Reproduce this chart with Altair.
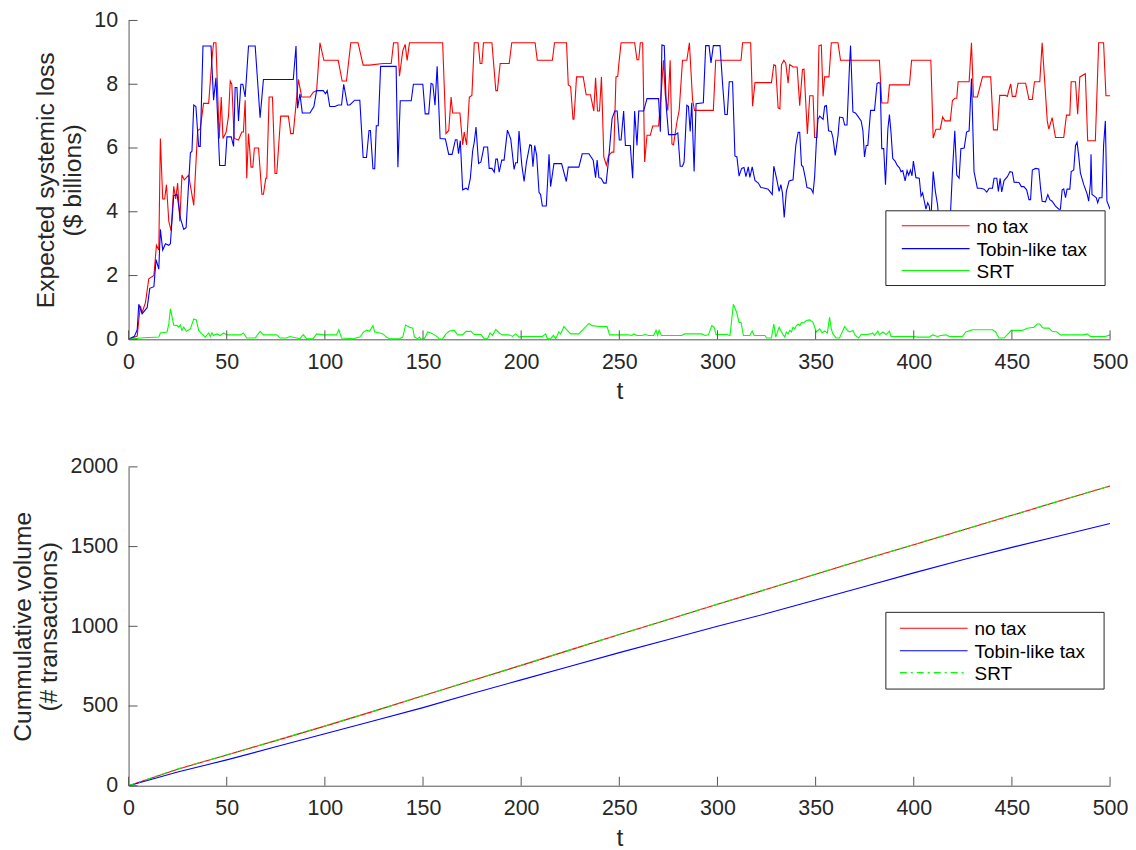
import altair as alt
import pandas as pd

# ---------------- data: expected systemic loss ($ billions) ----------------
notax_t = [0, 4.4, 5.2, 6, 6.9, 8.6, 10.3, 12.9, 14.2, 15.4, 16.2, 17.4, 18.4, 19.3, 20.5, 21.7, 23.0, 24.0, 25.0, 26.1,
           27.2, 28.4, 30.6, 33.2, 35.2, 36.5, 38.2, 40.8, 42.5, 43.3, 44.5, 46.2, 47.2, 48.1, 49.7, 50.9, 51.8, 52.6,
           53.8, 56.0, 57.7, 58.5, 59.4, 60.2, 61.1, 62.4, 63.3, 64.1, 66.2, 67.9, 68.7, 69.9, 70.4, 71.6, 73.3, 74.6,
           75.5, 77.5, 81.4, 82.6, 83.9, 86.5, 88.2, 92.4, 94.1, 95.8, 97.5, 99.5, 106.8, 108.8, 111.0, 113.2, 116.9,
           119.5, 122.8, 129.6, 133.8, 135.0, 137.2, 138.0, 139.7, 140.9, 141.9, 143.1, 160.0, 161.7, 163.1, 164.3,
           165.1, 168.8, 170.2, 171.0, 172.2, 173.6, 174.9, 176.1, 178.1, 179.1, 180.0, 180.8, 185.1, 187.1, 187.9,
           189.3, 193.9, 195.2, 207.1, 208.2, 215.9, 217.0, 223.1, 224.0, 225.2, 226.4, 226.9, 228.2, 231.6, 233.1,
           235.3, 237.0, 237.9, 238.9, 239.9, 240.9, 242.1, 243.4, 244.6, 246.3, 247.2, 248.3, 249.2, 249.7, 250.9,
           257.8, 259.0, 259.9, 260.7, 261.9, 262.9, 264.1, 265.8, 267.0, 270.0, 271.4, 272.5, 273.4, 274.7, 275.9,
           276.8, 277.6, 279.3, 280.5, 282.2, 284.4, 285.7, 287.3, 288.3, 297.9, 299.1, 312.0, 312.8, 316.9, 317.9,
           319.1, 327.5, 328.7, 329.6, 330.9, 331.8, 332.6, 333.8, 334.8, 336.0, 336.8, 338.5, 340.6, 341.9, 343.3,
           344.1, 345.8, 347.0, 348.7, 349.5, 350.7, 351.7, 352.9, 353.8, 354.6, 356.8, 358.0, 361.4, 362.7, 382.5,
           383.7, 386.8, 387.6, 397.8, 398.9, 408.7, 409.9, 411.3, 413.5, 414.7, 415.9, 418.6, 419.7, 420.9, 421.9,
           422.6, 428.2, 429.4, 430.4, 432.4, 435.0, 439.2, 440.6, 442.6, 443.8, 446.8, 447.7, 448.5, 449.4, 450.2,
           451.9, 453.1, 457.0, 458.7, 460.4, 461.5, 464.2, 465.4, 467.1, 468.0, 468.8, 470.5, 472.2, 476.4, 477.8,
           479.5, 480.2, 482.4, 483.5, 484.6, 487.4, 488.6, 492.5, 494.2, 496.7, 497.9, 500]
notax_loss = [0, 0.1, 0.6, 1.05, 0.84, 1.15, 1.9, 2.0, 2.95, 2.8, 6.3, 4.4, 4.4, 4.85, 3.7, 3.4, 4.8, 4.4, 4.9, 3.7,
              5.15, 5.0, 5.15, 4.2, 6.55, 6.6, 7.4, 7.4, 8.8, 9.3, 9.3, 6.3, 7.6, 6.3, 6.5, 7.0, 8.1, 8.0,
              6.3, 6.25, 6.5, 6.5, 7.5, 5.05, 6.45, 5.4, 5.4, 6.0, 6.0, 4.55, 4.55, 5.05, 5.05, 7.6, 7.6, 5.2,
              5.2, 7.0, 7.0, 6.45, 6.45, 8.15, 7.6, 7.6, 7.75, 7.8, 9.3, 8.75, 8.75, 8.1, 8.1, 9.3, 9.3,
              8.6, 8.6, 8.65, 8.65, 9.3, 9.3, 8.25, 9.05, 9.25, 8.75, 9.3, 9.3, 6.45, 6.55, 7.6,
              7.1, 7.1, 6.1, 6.5, 6.1, 7.6, 7.65, 9.3, 9.3, 8.65, 8.65, 9.3, 9.3, 7.8, 7.8,
              8.65, 8.65, 9.3, 9.3, 8.75, 8.75, 9.3, 9.3, 7.98, 7.93, 6.9, 6.9, 8.23, 8.23, 7.67,
              7.67, 7.16, 8.2, 7.16, 7.16, 8.23, 5.72, 5.46, 5.77, 5.87, 5.87, 8.23, 8.25, 8.6, 9.3,
              9.3, 8.77, 8.77, 9.3, 9.3, 5.56, 6.4, 6.4, 6.69, 6.69, 7.77, 8.75, 7.67, 7.18, 8.75,
              6.13, 6.1, 6.8, 7.19, 8.75, 8.75, 9.3, 7.52, 7.18, 7.18, 8.75, 8.75, 9.3, 9.3, 7.31,
              8.05, 8.05, 8.61, 8.59, 7.26, 7.23, 8.61, 8.75, 8.66, 8.03, 8.62, 8.54, 8.54, 7.33, 8.46,
              8.47, 6.44, 7.64, 7.64, 6.33, 6.33, 9.21, 9.23, 7.62, 8.23, 8.23, 9.3, 9.3, 8.75, 8.75,
              7.41, 7.41, 7.98, 7.98, 8.75, 8.75, 6.31, 6.59, 6.59, 6.97, 6.85, 6.85, 7.49, 7.56, 7.56,
              8.08, 8.08, 9.3, 7.6, 7.6, 8.23, 8.23, 6.57, 6.57, 7.65, 7.65, 7.62, 7.82, 8.01, 7.62,
              7.62, 8.03, 8.03, 7.52, 7.52, 8.08, 8.08, 9.3, 7.72, 6.85, 6.59, 6.95, 6.33, 6.33, 7.03,
              7.03, 8.08, 8.08, 7.06, 8.23, 8.33, 6.23, 6.23, 9.3, 9.3, 7.64, 7.64]

tobin_t = [0, 3, 4.4, 5.2, 6.9, 9.5, 10.8, 12.9, 14.0, 15.4, 16.2, 17.4, 18.8, 20.5, 21.3, 23.0, 24.7, 26.4, 28.1,
           29.3, 31.5, 32.3, 33.2, 34.3, 35.7, 36.5, 37.9, 42.0, 43.3, 44.5, 46.4, 49.2, 50.1, 52.3, 53.5, 54.3,
           55.2, 56.0, 57.2, 58.2, 59.4, 61.1, 64.5, 67.0, 68.7, 83.9, 85.3, 86.1, 87.3, 88.5, 92.4, 94.4, 95.8,
           99.2, 100.3, 101.2, 102.5, 105.1, 106.8, 108.5, 109.6, 111.5, 112.7, 115.2, 117.8, 119.5, 121.2, 122.5,
           123.2, 124.5, 125.4, 126.2, 127.2, 128.4, 136.3, 137.2, 138.4, 144.0, 145.1, 149.9, 151.1, 152.9, 154.1,
           155.0, 156.1, 157.2, 158.7, 161.4, 163.1, 164.8, 166.5, 167.3, 168.1, 169.0, 170.2, 171.9, 172.9, 174.1,
           175.3, 176.1, 177.0, 178.3, 179.5, 181.0, 182.9, 183.7, 185.1, 186.3, 187.1, 187.9, 188.8, 190.1, 191.3,
           193.0, 194.7, 196.4, 197.2, 198.1, 198.9, 200.3, 201.5, 202.7, 204.4, 205.2, 206.0, 206.9, 207.9, 209.1,
           209.9, 210.8, 212.8, 214.2, 215.0, 216.7, 220.6, 223.0, 224.0, 229.4, 231.1, 234.5, 236.7, 237.9, 238.7,
           239.6, 240.7, 242.1, 243.3, 244.6, 246.3, 247.7, 248.9, 250.0, 250.9, 252.2, 253.1, 255.6, 256.8, 257.8,
           259.0, 259.9, 262.4, 264.1, 270.0, 270.9, 271.7, 272.9, 273.9, 275.1, 278.5, 279.8, 281.0, 282.2, 283.0,
           284.4, 285.2, 286.1, 286.9, 288.1, 289.1, 292.8, 294.0, 295.7, 296.7, 297.9, 301.3, 302.7, 303.8, 305.0,
           306.0, 307.7, 308.9, 309.9, 311.0, 312.3, 313.5, 314.5, 315.7, 316.5, 317.7, 319.1, 320.8, 322.1, 324.2,
           325.8, 326.7, 327.9, 328.7, 330.1, 331.4, 332.3, 333.1, 334.0, 335.1, 336.5, 338.5, 339.9, 341.1, 341.9,
           342.8, 343.6, 344.8, 345.6, 347.0, 347.8, 348.7, 349.5, 350.4, 351.2, 352.1, 353.8, 354.6, 355.5, 356.6,
           358.0, 358.8, 360.0, 361.4, 362.2, 363.9, 364.8, 366.0, 367.3, 367.8, 369.0, 370.3, 371.5, 373.2, 374.1,
           374.9, 375.8, 376.6, 378.0, 380.0, 381.3, 382.2, 382.9, 383.7, 384.7, 385.6, 386.8, 387.6, 388.4, 389.3,
           390.5, 391.5, 392.7, 393.5, 394.4, 395.6, 396.6, 397.4, 398.3, 399.1, 399.8, 401.1, 402.8, 403.7, 404.5,
           405.4, 406.2, 407.1, 407.9, 408.7, 409.9, 411.0, 412.1, 413.0, 414.5, 416.0, 417.5, 418.6, 419.7, 420.9,
           421.9, 423.1, 424.0, 425.7, 426.9, 428.2, 429.4, 430.7, 432.4, 434.1, 435.8, 437.2, 438.4, 440.1, 440.9,
           442.3, 443.1, 444.0, 444.8, 446.0, 447.7, 449.0, 450.2, 451.1, 453.6, 454.8, 456.1, 457.5, 458.7, 459.5,
           460.4, 462.0, 463.7, 464.6, 465.4, 467.1, 468.3, 469.3, 470.5, 472.2, 473.9, 474.7, 475.6, 476.4, 477.3,
           478.1, 479.5, 480.2, 481.5, 482.4, 483.2, 484.0, 484.9, 486.6, 488.3, 489.1, 490.0, 490.3, 490.8, 492.0,
           493.0, 493.7, 494.5, 495.9, 496.7, 497.6, 498.4, 500]
tobin_loss = [0, 0.1, 0.3, 1.1, 0.8, 1.0, 1.6, 1.65, 2.5, 2.2, 3.45, 2.8, 3.0, 2.95, 3.0, 4.5, 4.55, 3.8, 3.45,
              3.5, 5.85, 5.9, 7.35, 7.3, 6.05, 6.05, 9.2, 9.2, 7.5, 8.2, 5.45, 5.45, 6.35, 6.35, 6.05, 7.9,
              7.9, 6.85, 8.0, 8.0, 7.6, 9.2, 9.2, 6.95, 8.15, 8.15, 9.2, 7.25, 7.7, 7.1, 7.1, 7.3, 7.8,
              7.8, 7.7, 7.8, 7.3, 7.3, 7.35, 7.35, 8.0, 7.35, 7.35, 7.5, 7.5, 5.7, 5.7, 6.55,
              6.55, 5.35, 5.35, 6.7, 6.7, 8.56, 8.56, 5.4, 7.48, 7.48, 8.0, 8.0, 7.07, 7.07, 8.03,
              8.0, 7.34, 8.56, 6.3, 6.28, 5.8, 5.8, 6.26, 6.26, 5.82, 6.23, 4.69, 4.74, 4.69, 5.05,
              5.92, 6.18, 6.66, 5.51, 5.56, 6.03, 6.03, 5.36, 5.36, 5.24, 5.65, 5.65, 5.24, 5.62, 5.62,
              6.56, 6.28, 5.33, 5.54, 5.54, 6.53, 5.48, 4.95, 5.56, 6.1, 6.08, 5.41, 6.08, 5.77, 4.61,
              4.54, 4.18, 4.18, 5.8, 4.79, 5.51, 5.51, 4.95, 5.4, 5.4, 5.82, 5.82, 5.62, 5.07, 5.62,
              5.07, 5.05, 4.9, 4.9, 5.67, 6.92, 7.16, 7.16, 6.25, 6.25, 7.16, 6.08, 6.08, 5.05, 7.16,
              6.08, 7.16, 7.16, 7.55, 7.55, 6.51, 9.23, 9.21, 7.31, 6.42, 6.42, 6.47, 5.43, 5.43, 5.56,
              7.34, 7.31, 6.52, 7.42, 5.26, 7.39, 7.42, 9.21, 9.21, 8.67, 9.21, 9.21, 7.93, 7.05, 7.05,
              8.08, 8.08, 5.75, 5.72, 5.12, 5.36, 5.39, 5.1, 5.41, 5.08, 5.41, 4.98, 4.9, 4.76, 4.74,
              4.71, 4.64, 4.54, 5.43, 5.05, 4.64, 4.85, 4.59, 3.82, 4.64, 4.97, 5.0, 6.08, 6.49, 6.49,
              5.46, 5.41, 5.05, 4.76, 4.74, 4.71, 4.59, 5.1, 6.23, 6.9, 7.0, 6.9, 7.31, 7.33, 6.54,
              6.52, 6.33, 5.77, 6.39, 6.97, 6.95, 6.72, 6.72, 8.64, 9.21, 7.13, 7.1, 7.0, 6.85, 6.54,
              5.72, 6.08, 6.08, 7.18, 7.18, 8.03, 8.05, 8.03, 5.98, 5.98, 4.85, 6.59, 7.05, 6.49, 5.67,
              5.59, 5.46, 5.38, 5.26, 5.29, 4.97, 5.29, 5.15, 5.31, 5.13, 5.59, 5.07, 5.05, 4.49, 4.59,
              4.33, 4.08, 4.28, 4.18, 3.7, 5.26, 4.64, 4.23, 3.6, 3.9, 3.4, 3.7, 3.8, 5.26, 6.54,
              5.15, 5.05, 5.98, 6.0, 6.5, 6.54, 8.18, 5.26, 4.74, 4.74, 4.71, 4.62, 4.74, 4.74, 5.05,
              5.05, 4.64, 5.05, 4.62, 4.98, 5.1, 5.26, 5.24, 4.93, 4.92, 4.79, 4.79, 4.69, 4.38, 4.38,
              5.31, 5.36, 5.34, 4.74, 4.33, 4.31, 4.54, 4.38, 4.33, 4.18, 4.08, 4.08, 4.69, 4.72, 4.44,
              4.71, 4.71, 5.26, 5.31, 6.08, 6.18, 5.77, 5.21, 4.85, 4.56, 4.33, 4.9, 5.8, 4.54, 4.49,
              4.44, 4.28, 4.44, 4.44, 6.08, 6.85, 4.33, 4.08]

srt_t = [0, 7.8, 15.4, 16.2, 19.6, 20.5, 21.3, 23.0, 24.7, 25.5, 26.4, 27.2, 28.1, 29.4, 31.5, 33.2, 34.5, 35.7,
         37.4, 39.1, 40.8, 41.6, 42.5, 43.3, 45.0, 46.7, 48.4, 50.1, 56.9, 58.5, 60.2, 64.5, 67.0, 68.7, 75.5,
         77.2, 80.5, 82.2, 87.3, 89.0, 90.7, 94.1, 95.8, 99.2, 105.9, 107.1, 108.5, 114.4, 117.8, 119.8, 121.2,
         122.8, 124.5, 125.4, 127.9, 129.6, 131.3, 133.0, 138.0, 139.7, 141.1, 143.1, 144.8, 145.6, 147.3, 148.2,
         149.0, 150.7, 152.4, 154.1, 155.8, 157.5, 158.3, 160.0, 161.7, 163.4, 165.9, 167.6, 170.2, 171.9, 174.4,
         176.1, 179.5, 181.2, 182.9, 184.1, 185.4, 187.1, 188.8, 190.5, 193.9, 195.6, 197.2, 198.9, 200.6, 210.8,
         212.5, 213.3, 215.0, 216.4, 217.6, 219.2, 220.1, 221.8, 223.5, 225.2, 229.4, 231.1, 234.5, 236.2, 239.6,
         243.8, 245.0, 254.8, 256.5, 257.3, 259.0, 261.5, 263.2, 264.9, 267.5, 268.7, 269.5, 270.3, 271.4, 281.8,
         283.2, 292.0, 293.7, 295.4, 297.1, 298.3, 299.3, 304.7, 306.4, 308.1, 309.8, 311.0, 312.0, 313.2, 316.5,
         317.7, 318.7, 324.2, 325.0, 327.5, 328.7, 329.7, 331.4, 332.6, 333.5, 334.3, 335.1, 336.0, 336.8, 337.7,
         338.5, 339.4, 340.2, 341.1, 341.9, 342.8, 343.6, 345.3, 347.0, 348.7, 349.5, 350.4, 351.2, 352.1, 353.3,
         354.6, 356.0, 357.1, 358.0, 358.8, 360.5, 362.2, 363.1, 364.8, 366.5, 367.3, 369.0, 370.2, 371.9, 373.2,
         375.8, 378.3, 379.1, 380.0, 381.7, 382.5, 384.2, 385.9, 387.6, 388.4, 399.8, 402.0, 407.9, 409.6, 412.1,
         413.8, 416.4, 418.1, 424.8, 426.5, 429.1, 429.9, 440.1, 441.7, 443.4, 446.0, 447.7, 449.7, 455.3, 457.8,
         461.2, 462.9, 464.1, 465.4, 466.3, 468.8, 470.5, 473.0, 474.7, 486.6, 488.3, 490.0, 497.6, 500]
srt_loss = [0, 0.05, 0.07, 0.2, 0.23, 0.48, 0.96, 0.45, 0.43, 0.38, 0.45, 0.28, 0.38, 0.25, 0.33, 0.64, 0.61, 0.28,
            0.17, 0.07, 0.2, 0.09, 0.2, 0.12, 0.17, 0.12, 0.2, 0.14, 0.14, 0.2, 0.04, 0.04, 0.25, 0.14, 0.14,
            0.04, 0.04, 0.09, 0.02, 0.15, 0.02, 0.02, 0.17, 0.14, 0.14, 0.3, 0.04, 0.02, 0.07, 0.23, 0.28,
            0.26, 0.43, 0.23, 0.2, 0.17, 0.07, 0.02, 0.02, 0.07, 0.45, 0.38, 0.35, 0.07, 0.02, 0.07,
            0.0, 0.02, 0.23, 0.2, 0.14, 0.07, 0.0, 0.02, 0.17, 0.26, 0.28, 0.14, 0.14, 0.25, 0.25,
            0.15, 0.15, 0.02, 0.02, 0.2, 0.12, 0.31, 0.2, 0.14, 0.14, 0.09, 0.17, 0.07, 0.09, 0.09,
            0.17, 0.02, 0.02, 0.12, 0.02, 0.23, 0.17, 0.4, 0.28, 0.17, 0.17, 0.28, 0.5, 0.43, 0.4,
            0.4, 0.14, 0.14, 0.12, 0.17, 0.12, 0.12, 0.15, 0.12, 0.12, 0.28, 0.12, 0.28, 0.12, 0.12,
            0.17, 0.17, 0.12, 0.14, 0.43, 0.38, 0.15, 0.15, 0.12, 1.1, 0.84, 0.53, 0.53, 0.12, 0.12,
            0.26, 0.12, 0.12, 0.04, 0.04, 0.48, 0.07, 0.38, 0.23, 0.14, 0.07, 0.23, 0.17, 0.28, 0.23,
            0.38, 0.33, 0.43, 0.48, 0.43, 0.53, 0.51, 0.59, 0.61, 0.53, 0.38, 0.23, 0.28, 0.33, 0.2,
            0.26, 0.2, 0.69, 0.33, 0.17, 0.04, 0.04, 0.17, 0.4, 0.26, 0.23, 0.28, 0.12, 0.04, 0.15,
            0.15, 0.17, 0.2, 0.12, 0.26, 0.14, 0.23, 0.15, 0.26, 0.09, 0.09, 0.07, 0.07, 0.14, 0.09,
            0.12, 0.14, 0.09, 0.09, 0.23, 0.28, 0.3, 0.3, 0.23, 0.04, 0.04, 0.15, 0.28, 0.28, 0.35,
            0.38, 0.48, 0.48, 0.38, 0.35, 0.35, 0.25, 0.23, 0.14, 0.14, 0.17, 0.09, 0.09, 0.14]

# ---------------- data: cumulative volume (# transactions) ----------------
vol_t = [0, 25, 50, 75, 100, 125, 150, 175, 200, 225, 250, 275, 300, 325, 350, 375, 400, 425, 450, 475, 500]
vol_notax = [0, 104, 193, 283, 374, 468, 564, 660, 755, 852, 948, 1043, 1138, 1232, 1327, 1420, 1512, 1604, 1696,
             1789, 1880]
vol_tobin = [0, 86, 162, 244, 326, 408, 490, 578, 664, 750, 835, 917, 1000, 1080, 1165, 1250, 1335, 1418, 1495,
             1570, 1645]
vol_srt = [0, 105, 194, 284, 375, 468, 565, 661, 756, 852, 949, 1044, 1139, 1233, 1328, 1421, 1513, 1605, 1697,
           1790, 1881]

series_names = ["no tax", "Tobin-like tax", "SRT"]
series_colors = ["#ff0000", "#0000ff", "#00ff00"]
x_ticks = [0, 50, 100, 150, 200, 250, 300, 350, 400, 450, 500]
loss_ticks = [0, 2, 4, 6, 8, 10]
vol_ticks = [0, 500, 1000, 1500, 2000]

FONT = "Liberation Sans"
W = 985
H = 320
TEXT = "#262626"
AXC = "#555555"
TICK = 9

xscale = alt.Scale(domain=[0, 500], nice=False, zero=False)
x_axis = alt.Axis(values=x_ticks, title="t", labelFlush=False, labelPadding=12, titlePadding=6, format="d")


def panel(series, yscale, y_axis, y_ticks, legend_box, legend_rows, dash_last):
    one = pd.DataFrame({"a": [0]})
    layers = []
    for i, (t, v) in enumerate(series):
        df = pd.DataFrame({"t": t, "v": v})
        kw = {}
        if dash_last and i == 2:
            kw["strokeDash"] = [7, 4, 2, 4]
        layers.append(
            alt.Chart(df).mark_line(color=series_colors[i], strokeWidth=1.1, clip=True, **kw).encode(
                x=alt.X("t:Q", scale=xscale, axis=x_axis),
                y=alt.Y("v:Q", scale=yscale, axis=y_axis),
            )
        )
    # inward ticks
    ydf = pd.DataFrame({"v": y_ticks})
    layers.append(
        alt.Chart(ydf).mark_rule(color=AXC, strokeWidth=1).encode(
            y=alt.Y("v:Q", scale=yscale, axis=y_axis), x=alt.value(0), x2=alt.value(TICK)
        )
    )
    xdf = pd.DataFrame({"t": x_ticks})
    layers.append(
        alt.Chart(xdf).mark_rule(color=AXC, strokeWidth=1).encode(
            x=alt.X("t:Q", scale=xscale, axis=x_axis), y=alt.value(H), y2=alt.value(H - TICK)
        )
    )
    # legend
    bx0, bx1, by0, by1 = legend_box
    layers.append(
        alt.Chart(one).mark_rect(fill="white", stroke=TEXT, strokeWidth=1).encode(
            x=alt.value(bx0), x2=alt.value(bx1), y=alt.value(by0), y2=alt.value(by1)
        )
    )
    lx0, lx1, tx, rows = legend_rows
    for i, ry in enumerate(rows):
        kw = {}
        if dash_last and i == 2:
            kw["strokeDash"] = [7, 4, 2, 4]
        layers.append(
            alt.Chart(one).mark_rule(color=series_colors[i], strokeWidth=1.1, **kw).encode(
                x=alt.value(lx0), x2=alt.value(lx1), y=alt.value(ry)
            )
        )
        layers.append(
            alt.Chart(one).mark_text(align="left", baseline="middle", font=FONT, fontSize=19, color="#000000").encode(
                x=alt.value(tx), y=alt.value(ry + 1), text=alt.value(series_names[i])
            )
        )
    return alt.layer(*layers).properties(width=W, height=H)


loss_scale = alt.Scale(domain=[0, 10], nice=False)
loss_axis = alt.Axis(values=loss_ticks, title=["Expected systemic loss", "($ billions)"], labelPadding=11,
                     titlePadding=8, format="d")
vol_scale = alt.Scale(domain=[0, 2000], nice=False)
vol_axis = alt.Axis(values=vol_ticks, title=["Cummulative volume", "(# transactions)"], labelPadding=11,
                    titlePadding=8, format="d")

top = panel(
    [(notax_t, notax_loss), (tobin_t, tobin_loss), (srt_t, srt_loss)],
    loss_scale, loss_axis, loss_ticks,
    (760, 980, 191, 266), (776, 844, 851, [206, 229, 251]), False,
)
bottom = panel(
    [(vol_t, vol_notax), (vol_t, vol_tobin), (vol_t, vol_srt)],
    vol_scale, vol_axis, vol_ticks,
    (760, 979, 146, 223), (774, 842, 849, [162, 184.5, 206.5]), True,
)

chart = alt.vconcat(top, bottom, spacing=52).properties(
    padding={"left": 2, "top": 0, "right": 0, "bottom": 0}
).configure(font=FONT).configure_view(stroke=None).configure_axis(
    domainColor=AXC, domainWidth=1, ticks=False, tickSize=0, grid=False,
    labelFont=FONT, labelFontSize=21.5, labelColor=TEXT,
    titleFont=FONT, titleFontSize=24.7, titleFontWeight="normal", titleColor=TEXT,
    titleLineHeight=27,
)

chart.save("out.html", embed_options={"renderer": "svg", "actions": False})
